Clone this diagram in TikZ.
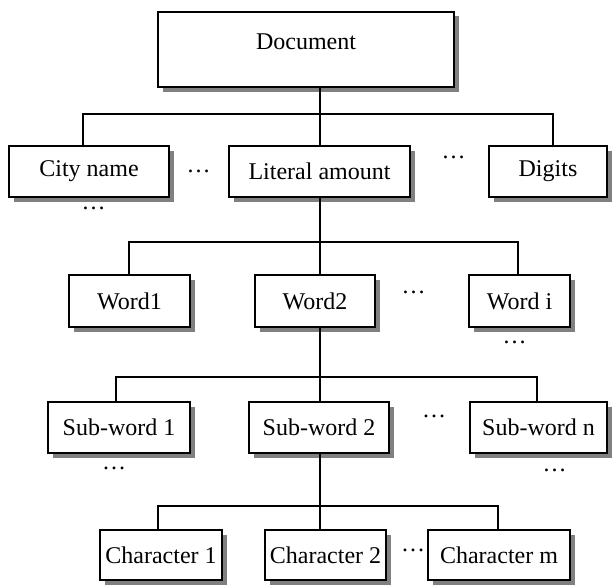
\documentclass[tikz,border=0pt]{standalone}
\usepackage{fontspec}
\setmainfont{Liberation Serif}
\usetikzlibrary{shadows}
\begin{document}
\begin{tikzpicture}[x=1pt,y=-1pt,
  box/.style={draw=black,fill=white,line width=1.6pt,rectangle,inner sep=0pt,
    minimum height=51pt,font=\fontsize{24}{28}\selectfont,
    drop shadow={shadow xshift=5pt,shadow yshift=-4.5pt,fill=black!50,opacity=1}},
  conn/.style={line width=1.4pt,line cap=rect},
  dts/.style={anchor=base,inner sep=0pt,font=\fontsize{24}{28}\selectfont}]
\useasboundingbox (0,0) rectangle (613,586);
% boxes
\node[box,minimum width=296pt,minimum height=75pt,text height=12pt,text depth=12pt] (doc) at (306,49.5) {Document};
\node[box,minimum width=160pt] (city) at (89,171.5) {City name};
\node[box,minimum width=181pt] (lit) at (319.5,171.5) {Literal amount};
\node[box,minimum width=118pt] (dig) at (548,171.5) {Digits};
\node[box,minimum width=121pt,minimum height=52pt] (w1) at (129.5,301) {Word1};
\node[box,minimum width=120pt,minimum height=52pt] (w2) at (315,301) {Word2};
\node[box,minimum width=101pt,minimum height=52pt] (wi) at (519.5,301) {Word i};
\node[box,minimum width=142pt] (s1) at (119,427.5) {Sub-word 1};
\node[box,minimum width=140pt] (s2) at (319,427.5) {Sub-word 2};
\node[box,minimum width=137pt] (sn) at (538.5,427.5) {Sub-word n};
\node[box,minimum width=122pt,minimum height=50pt] (c1) at (161,555) {Character 1};
\node[box,minimum width=121pt,minimum height=50pt] (c2) at (325.5,555) {Character 2};
\node[box,minimum width=142pt,minimum height=50pt] (cm) at (499,555) {Character m};
% dots
\node[dts] (d1) at (198.5,172) {…};
\node[dts] (d2) at (453.5,158) {…};
\node[dts] (d3) at (93.5,209) {…};
\node[dts] (d4) at (413.5,293) {…};
\node[dts] (d5) at (514.5,343) {…};
\node[dts] (d6) at (434,417) {…};
\node[dts] (d7) at (114,469) {…};
\node[dts] (d8) at (554.5,471) {…};
\node[dts] (d9) at (413,551) {…};
% connector coordinates
\coordinate (t) at (320,0);
\coordinate (b1l) at (83,114);  \coordinate (b1r) at (553,114);
\coordinate (b2l) at (129,242); \coordinate (b2r) at (518,242);
\coordinate (b3l) at (116,377); \coordinate (b3r) at (537,377);
\coordinate (b4l) at (158,506); \coordinate (b4r) at (498,506);
% connectors
\draw[conn] (doc.south -| t) -- (lit.north -| t);
\draw[conn] (city.north -| b1l) -- (b1l) -- (b1r) -- (dig.north -| b1r);
\draw[conn] (lit.south -| t) -- (w2.north -| t);
\draw[conn] (w1.north -| b2l) -- (b2l) -- (b2r) -- (wi.north -| b2r);
\draw[conn] (w2.south -| t) -- (s2.north -| t);
\draw[conn] (s1.north -| b3l) -- (b3l) -- (b3r) -- (sn.north -| b3r);
\draw[conn] (s2.south -| t) -- (c2.north -| t);
\draw[conn] (c1.north -| b4l) -- (b4l) -- (b4r) -- (cm.north -| b4r);
\end{tikzpicture}
\end{document}
